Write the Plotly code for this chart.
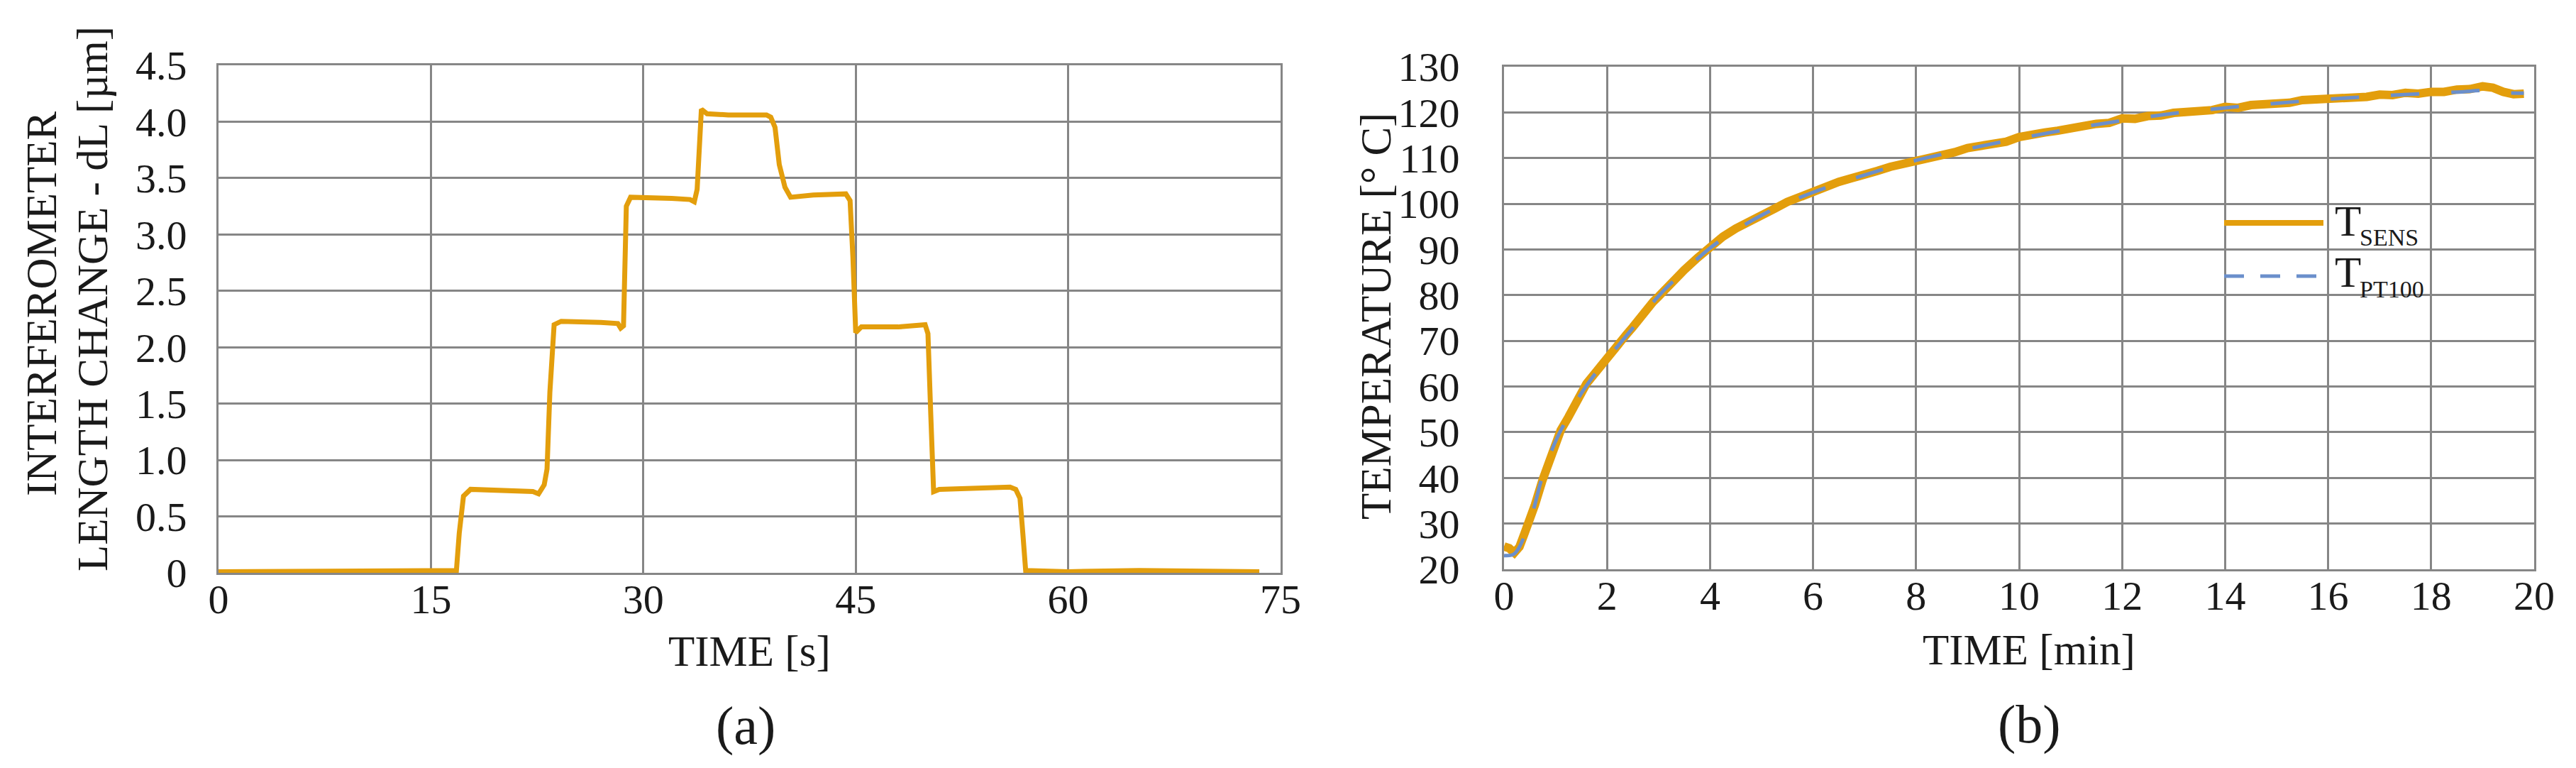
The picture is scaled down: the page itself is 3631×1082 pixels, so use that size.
import plotly.graph_objects as go

COLORS = {
    "orange": "#E39E0C",
    "blue": "#6B8FCB",
    "grid": "#868686",
    "text": "#1a1a1a",
}
FONT = "Liberation Serif"

# (a) interferometer length change vs time
time_s = [0, 5, 10, 12, 16.5, 16.8, 17.0, 17.3, 17.8, 20, 22.2, 22.6, 23.0, 23.2, 23.4,
          23.7, 24.2, 27, 28.2, 28.4, 28.6, 28.8, 29.1, 32, 33.3, 33.6, 33.8, 34.1, 34.5,
          36, 38.7, 39.0, 39.3, 39.6, 40.0, 40.4, 42, 44.3, 44.6, 44.8, 45.0, 45.4, 48,
          49.9, 50.1, 50.3, 50.5, 50.9, 54, 55.9, 56.3, 56.6, 56.8, 57.0, 60, 65, 73.5]
dl_um = [0.01, 0.01, 0.02, 0.02, 0.01, 0.02, 0.35, 0.68, 0.74, 0.73, 0.72, 0.70, 0.78, 0.92, 1.6,
         2.20, 2.23, 2.22, 2.21, 2.17, 2.19, 3.25, 3.33, 3.32, 3.31, 3.29, 3.40, 4.11, 4.07,
         4.06, 4.06, 4.04, 3.95, 3.62, 3.42, 3.33, 3.35, 3.36, 3.30, 2.80, 2.13, 2.18, 2.18,
         2.20, 2.12, 1.40, 0.72, 0.74, 0.75, 0.76, 0.74, 0.66, 0.35, 0.02, 0.01, 0.02, 0.01]

# (b) temperature vs time
t_sens_min = [0.0, 0.1, 0.2, 0.3, 0.4, 0.5, 0.6, 0.75, 0.9, 1.0, 1.1, 1.25, 1.4, 1.5, 1.6,
              1.75, 1.9, 2.0, 2.1, 2.25, 2.4, 2.5, 2.6, 2.75, 2.9, 3.0, 3.25, 3.5, 3.75, 4.0,
              4.1, 4.25, 4.5, 4.75, 5.0, 5.25, 5.5, 5.75, 6.0, 6.25, 6.5, 6.75, 7.0, 7.25,
              7.5, 7.75, 8.0, 8.25, 8.5, 8.75, 9.0, 9.25, 9.5, 9.75, 10.0, 10.25, 10.5, 10.75,
              11.0, 11.25, 11.5, 11.75, 12.0, 12.25, 12.5, 12.75, 13.0, 13.25, 13.5, 13.75,
              14.0, 14.25, 14.5, 14.75, 15.0, 15.25, 15.5, 15.75, 16.0, 16.25, 16.5, 16.75,
              17.0, 17.25, 17.5, 17.75, 18.0, 18.25, 18.5, 18.75, 19.0, 19.2, 19.4, 19.6, 19.8]
t_sens = [25.0, 24.6, 23.6, 24.9, 27.9, 30.7, 34.1, 39.6, 44.6, 48.1, 50.4, 53.3, 56.5, 58.7, 60.6,
          62.7, 64.9, 66.1, 67.9, 69.6, 71.7, 73.0, 74.5, 76.4, 78.6, 79.7, 82.9, 85.5, 88.1, 90.4,
          91.9, 92.8, 94.6, 95.9, 97.7, 98.9, 100.4, 101.5, 102.9, 103.6, 104.8, 105.6, 106.6, 107.2,
          108.1, 108.7, 109.7, 110.1, 110.9, 111.3, 112.2, 112.6, 113.3, 113.6, 114.6, 114.9, 115.6, 116.0,
          116.7, 117.0, 117.5, 117.7, 118.7, 118.6, 119.2, 119.3, 119.9, 120.0, 120.3, 120.5,
          121.2, 121.0, 121.6, 121.7, 122.2, 122.1, 122.7, 122.8, 123.2, 123.0, 123.5, 123.4,
          123.9, 123.8, 124.3, 124.1, 124.5, 124.5, 125.0, 125.1, 125.7, 125.4, 124.5, 124.0, 124.1]

t_pt100_min = [0.0, 0.2, 0.5, 0.75, 1.0, 1.25, 1.5, 1.75, 2.0, 2.5, 3.0, 3.5, 4.0, 4.5, 5.0,
               5.5, 6.0, 7.0, 8.0, 9.0, 10.0, 11.0, 12.0, 13.0, 14.0, 15.0, 16.0, 17.0, 18.0,
               18.6, 19.0, 19.3, 19.8]
t_pt100 = [23.0, 23.4, 30.5, 40.5, 48.0, 53.5, 58.5, 62.5, 66.0, 72.8, 79.8, 85.3, 90.3, 94.2, 97.5,
           100.2, 102.5, 106.3, 109.5, 112.0, 114.3, 116.4, 118.2, 119.8, 121.0, 122.0, 122.9, 123.6, 124.2,
           124.5, 124.8, 124.4, 124.2]

dl_ticks = [0, 0.5, 1.0, 1.5, 2.0, 2.5, 3.0, 3.5, 4.0, 4.5]
dl_ticktext = ["0", "0.5", "1.0", "1.5", "2.0", "2.5", "3.0", "3.5", "4.0", "4.5"]

W, H = 3631, 1082


def px(x, y):
    return x / W, 1 - y / H


fig = go.Figure()
fig.add_trace(go.Scatter(x=time_s, y=dl_um, mode="lines", xaxis="x", yaxis="y",
                         line=dict(color=COLORS["orange"], width=7), showlegend=False))
fig.add_trace(go.Scatter(x=t_sens_min, y=t_sens, mode="lines", xaxis="x2", yaxis="y2",
                         line=dict(color=COLORS["orange"], width=12), showlegend=False))
fig.add_trace(go.Scatter(x=t_pt100_min, y=t_pt100, mode="lines", xaxis="x2", yaxis="y2",
                         line=dict(color=COLORS["blue"], width=5, dash="40px,45px", shape="spline"),
                         showlegend=False))

axis_common = dict(
    showgrid=True, gridcolor=COLORS["grid"], gridwidth=3,
    showline=True, linecolor=COLORS["grid"], linewidth=3, mirror=True,
    zeroline=False, ticks="", automargin=False,
    tickfont=dict(family=FONT, size=58, color=COLORS["text"]),
)

fig.update_layout(
    width=W, height=H,
    margin=dict(l=0, r=0, t=0, b=0),
    paper_bgcolor="white", plot_bgcolor="white",
    xaxis=dict(domain=[300 / W, 1797 / W], range=[0, 75], dtick=15, tick0=0,
               anchor="y", ticklabelstandoff=-16, **axis_common),
    yaxis=dict(domain=[1 - 799 / H, 1 - 84 / H], range=[0, 4.5],
               tickvals=dl_ticks, ticktext=dl_ticktext,
               anchor="x", ticklabelstandoff=30, **axis_common),
    xaxis2=dict(domain=[2112 / W, 3564 / W], range=[0, 20], dtick=2, tick0=0,
                anchor="y2", ticklabelstandoff=-16, **axis_common),
    yaxis2=dict(domain=[1 - 794 / H, 1 - 86 / H], range=[20, 130], dtick=10, tick0=20,
                anchor="x2", ticklabelstandoff=48, **axis_common),
)


def label(text, x, y, size=61, angle=0, xanchor="center"):
    ax, ay = px(x, y)
    fig.add_annotation(text=text, x=ax, y=ay, xref="paper", yref="paper",
                       xanchor=xanchor, yanchor="middle", textangle=angle, showarrow=False,
                       font=dict(family=FONT, size=size, color=COLORS["text"]))


label("INTERFEROMETER", 50, 420, angle=-90)
label("LENGTH CHANGE - dL [µm]", 122, 413, angle=-90)
label("TIME [s]", 1048, 909)
label("(a)", 1043, 1014, size=76)
label("TEMPERATURE [° C]", 1931, 437, angle=-90)
label("TIME [min]", 2852, 907)
label("(b)", 2852, 1012, size=76)

# legend drawn by hand so the sample lines are as long as in the original
for y, color, dash in [(306, COLORS["orange"], "solid"), (381, COLORS["blue"], "28px,23px")]:
    x0, y0 = px(3127, y)
    x1, _ = px(3267, y)
    fig.add_shape(type="line", xref="paper", yref="paper", x0=x0, x1=x1, y0=y0, y1=y0,
                  line=dict(color=color, width=8 if dash == "solid" else 5, dash=dash))
label("T", 3281, 303, xanchor="left")
label("SENS", 3316, 327, size=34, xanchor="left")
label("T", 3281, 375, xanchor="left")
label("PT100", 3316, 399, size=34, xanchor="left")

fig.write_html("out.html")
